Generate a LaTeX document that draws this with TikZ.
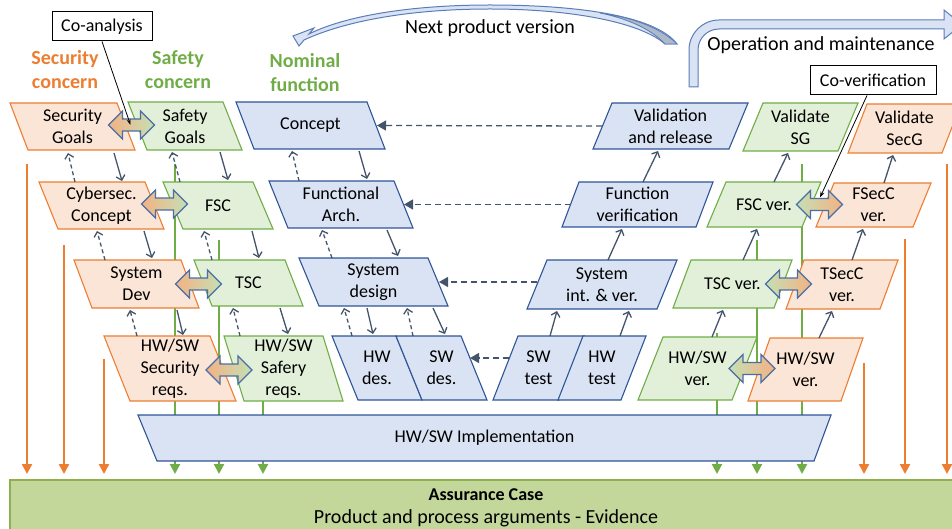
\documentclass[tikz,border=0pt]{standalone}
\usepackage{fontspec}
\setmainfont{Carlito}
\usetikzlibrary{arrows.meta,calc}
\definecolor{orF}{HTML}{FBE5D6}
\definecolor{orD}{HTML}{ED7D31}
\definecolor{grF}{HTML}{E2F0D9}
\definecolor{grD}{HTML}{70AD47}
\definecolor{blF}{HTML}{DAE3F3}
\definecolor{blD}{HTML}{2F5597}
\definecolor{blE}{HTML}{5A7DB8}
\definecolor{arc}{HTML}{44546A}
\definecolor{asF}{HTML}{C4D79B}
\definecolor{asD}{HTML}{8EB050}
\definecolor{daO}{HTML}{F4B183}
\definecolor{daG}{HTML}{C5E0B4}
\definecolor{daD}{HTML}{4A6FA5}
\definecolor{cgray}{HTML}{ADB9CA}
\pgfdeclarelayer{lines}
\pgfdeclarelayer{shapes}
\pgfsetlayers{lines,shapes,main}
% left-leaning parallelogram: style, name, x0, x1, ytop, ybot, slant, text
\newcommand\BoxL[8]{%
  \node[txt,minimum width={#4-#3},minimum height={#6-#5}] (#2) at ({(#3+#4)/2},{(#5+#6)/2}) {#8};
  \begin{pgfonlayer}{shapes}
    \filldraw[#1] (#2.north west) -- ([xshift=-#7pt]#2.north east) -- (#2.south east) -- ([xshift=#7pt]#2.south west) -- cycle;
  \end{pgfonlayer}}
% right-leaning parallelogram
\newcommand\BoxR[8]{%
  \node[txt,minimum width={#4-#3},minimum height={#6-#5}] (#2) at ({(#3+#4)/2},{(#5+#6)/2}) {#8};
  \begin{pgfonlayer}{shapes}
    \filldraw[#1] (#2.south west) -- ([xshift=#7pt]#2.north west) -- (#2.north east) -- ([xshift=-#7pt]#2.south east) -- cycle;
  \end{pgfonlayer}}
% double block arrow: name, cx, cy, left colour, right colour
\newcommand\DArr[5]{%
  \coordinate (#1) at (#2,#3);
  \path[draw=daD,line width=1.2pt,left color=#4,right color=#5]
    ($(#1)+(-23,0)$) -- ++(14,-14) -- ++(0,8) -- ++(18,0) -- ++(0,-8) -- ++(14,14)
    -- ++(-14,14) -- ++(0,-8) -- ++(-18,0) -- ++(0,8) -- cycle;}
\begin{document}
\begin{tikzpicture}[x=1pt,y=-1pt,
  txt/.style={inner sep=0pt,outer sep=0pt,align=center,font=\fontsize{18}{22}\selectfont},
  ob/.style={fill=orF,draw=orD,line width=1.1pt},
  gb/.style={fill=grF,draw=grD,line width=1.1pt},
  bb/.style={fill=blF,draw=blD,line width=1.1pt},
  con/.style={draw=arc,line width=1.3pt,-{Straight Barb[length=4.5pt,width=9pt]}},
  dcon/.style={con,dash pattern=on 4pt off 3pt},
  hcon/.style={draw=arc,line width=1.3pt,dash pattern=on 6pt off 4pt,-{Triangle[length=9pt,width=10pt]}},
  oline/.style={draw=orD,line width=2.2pt,-{Triangle[length=10pt,width=10pt]}},
  gline/.style={draw=grD,line width=2.2pt,-{Triangle[length=10pt,width=10pt]}},
  hdr/.style={inner sep=0pt,align=center,font=\fontsize{20}{24}\selectfont\bfseries},
  callout/.style={draw=black,fill=white,line width=1pt,minimum height=29pt,inner sep=0pt,font=\fontsize{18}{22}\selectfont},
  cline/.style={draw=black,line width=0.8pt,-{Stealth[length=6pt,width=4pt]}},
  bigarrow/.style={fill=blF,draw=blE,line width=1pt}]
\path[use as bounding box] (0,0) rectangle (952,529);
\clip (0,0) rectangle (952,529);

% ---------- headers ----------
\node[hdr,text=orD] (hsec) at (65,70) {Security\\concern};
\node[hdr,text=grD] (hsaf) at (178,70) {Safety\\concern};
\node[hdr,text=grD] (hnom) at (305,73) {Nominal\\function};

% ---------- boxes ----------
\BoxL{ob}{secg}{10}{135}{103}{150}{18}{Security\\Goals}
\BoxL{ob}{cyb}{39}{164}{182}{229}{19}{Cybersec.\\Concept}
\BoxL{ob}{sdev}{74}{199}{260}{308}{18}{System\\Dev}
\BoxL{ob}{secreq}{104}{236}{336}{401}{26}{HW/SW\\Security\\reqs.}
\BoxL{gb}{sg}{128}{242}{102}{150}{19}{Safety\\Goals}
\BoxL{gb}{fsc}{163}{273}{182}{229}{20}{FSC}
\BoxL{gb}{tsc}{194}{303}{260}{306}{18}{TSC}
\BoxL{gb}{safreq}{224}{343}{336}{401}{20}{HW/SW\\Safery\\reqs.}
\BoxL{bb}{concept}{236}{385}{102}{149}{18}{Concept}
\BoxL{bb}{farch}{269}{413}{181}{228}{19}{Functional\\Arch.}
\BoxL{bb}{sdes}{299}{448}{258}{306}{20}{System\\design}
\BoxL{bb}{hwdes}{332}{422}{336}{400}{26}{HW\\des.}
\BoxL{bb}{swdes}{396}{487}{336}{400}{26}{SW\\des.}
\BoxR{bb}{swtest}{493}{584}{336}{400}{25}{SW\\test}
\BoxR{bb}{hwtest}{558}{646}{336}{400}{25}{HW\\test}
\BoxR{bb}{sint}{527}{677}{260}{309}{20}{System\\int. \& ver.}
\BoxR{bb}{fver}{562}{713}{182}{227}{17}{Function\\verification}
\BoxR{bb}{valrel}{593}{748}{103}{149}{19}{Validation\\and release}
\BoxR{gb}{valsg}{743}{858}{103}{151}{20}{Validate\\SG}
\BoxR{gb}{fscver}{707}{821}{182}{227}{19}{FSC ver.}
\BoxR{gb}{tscver}{673}{792}{260}{308}{18}{TSC ver.}
\BoxR{gb}{hwverg}{638}{757}{337}{400}{25}{HW/SW\\ver.}
\BoxR{ob}{valsecg}{848}{961}{104}{153}{19}{Validate\\SecG}
\BoxR{ob}{fsecc}{816}{931}{183}{227}{18}{FSecC\\ver.}
\BoxR{ob}{tsecc}{786}{898}{260}{309}{18}{TSecC\\ver.}
\BoxR{ob}{hwvero}{748}{863}{338}{401}{22}{HW/SW\\ver.}

% implementation
\node[txt] (impl) at (484.5,438) {HW/SW Implementation};
\begin{pgfonlayer}{shapes}
  \filldraw[bb] (138,415) -- (831,415) -- (814,461) -- (157,461) -- cycle;
  \filldraw[fill=asF,draw=asD,line width=1.2pt] (10,480) rectangle (962,540);
\end{pgfonlayer}
\node[inner sep=0pt,font=\fontsize{18}{22}\selectfont\bfseries] (ac) at (486,495) {Assurance Case};
\node[inner sep=0pt,font=\fontsize{20}{24}\selectfont] (ac2) at (486,518) {Product and process arguments - Evidence};
\coordinate (acTop) at (486,474);

% ---------- vertical traceability lines ----------
\begin{pgfonlayer}{lines}
  \foreach \x/\y in {27/164,64/245,104/359,864/363,905/239,947/164}
    \draw[oline] (\x,\y) -- (\x,474);
  \foreach \x/\y in {175/164,219/240,263/380,717/333,757/240,802/164}
    \draw[gline] (\x,\y) -- (\x,474);
\end{pgfonlayer}

% ---------- left column connectors ----------
\draw[dcon] ($(cyb.north)+(-26.5,0)$) -- ($(secg.south)+(-4.5,3)$);
\draw[con] ($(secg.south)+(41.5,3)$) -- ($(cyb.north)+(20.5,-1)$);
\draw[dcon] ($(sdev.north)+(-31.5,0)$) -- ($(cyb.south)+(-4.5,2)$);
\draw[con] ($(cyb.south)+(42.5,2)$) -- ($(sdev.north)+(15.5,-2)$);
\draw[dcon] ($(secreq.north)+(-33,0)$) -- ($(sdev.south)+(-6.5,2)$);
\draw[con] ($(sdev.south)+(40.5,2)$) -- ($(secreq.north)+(13,-1)$);

\draw[dcon] ($(fsc.north)+(-38,0)$) -- ($(sg.south)+(-13,2)$);
\draw[con] ($(sg.south)+(35,2)$) -- ($(fsc.north)+(10,-2)$);
\draw[dcon] ($(tsc.north)+(-36.5,0)$) -- ($(fsc.south)+(-14,2)$);
\draw[con] ($(fsc.south)+(34,2)$) -- ($(tsc.north)+(10.5,-2)$);
\draw[dcon] ($(safreq.north)+(-43.5,0)$) -- ($(tsc.south)+(-15.5,2)$);
\draw[con] ($(tsc.south)+(31.5,2)$) -- ($(safreq.north)+(4.5,-2)$);

\draw[dcon] ($(farch.north)+(-42,0)$) -- ($(concept.south)+(-18.5,2)$);
\draw[con] ($(concept.south)+(48.5,2)$) -- ($(farch.north)+(26,-2)$);
\draw[dcon] ($(sdes.north)+(-41.5,0)$) -- ($(farch.south)+(-19,2)$);
\draw[con] ($(farch.south)+(46,2)$) -- ($(sdes.north)+(24.5,-2)$);
\draw[dcon] ($(hwdes.north)+(-25,0)$) -- ($(sdes.south)+(-29.5,2)$);
\draw[con] ($(sdes.south)+(-6.5,2)$) -- ($(hwdes.north)+(-4,-2)$);
\draw[dcon] ($(swdes.north)+(-28.5,0)$) -- ($(sdes.south)+(33.5,2)$);
\draw[con] ($(sdes.south)+(59.5,2)$) -- ($(swdes.north)+(3.5,-2)$);

% ---------- horizontal feedback ----------
\draw[hcon] ($(valrel.west)+(9,0)$) -- ($(concept.east)+(-8,0)$);
\draw[hcon] ($(fver.west)+(9,0)$) -- ($(farch.east)+(-9,0)$);
\draw[hcon] ($(sint.west)+(10,-2.5)$) -- ($(sdes.east)+(-9,0)$);
\draw[hcon] ($(swtest.west)+(16,-10)$) -- ($(swdes.east)+(-17,-10)$);

% ---------- right side connectors ----------
\draw[con] ($(swtest.north)+(11.5,0)$) -- ($(sint.south)+(-45,2)$);
\draw[con] ($(hwtest.north)+(18,0)$) -- ($(sint.south)+(27,2)$);
\draw[con] ($(sint.north)+(6,0)$) -- ($(fver.south)+(-15.5,2)$);
\draw[con] ($(fver.north)+(5.5,0)$) -- ($(valrel.south)+(-12.5,2)$);

\draw[con] ($(fscver.north)+(10,0)$) -- ($(valsg.south)+(-12.5,2)$);
\draw[con] ($(tscver.north)+(10.5,0)$) -- ($(fscver.south)+(-7,2)$);
\draw[con] ($(hwverg.north)+(14.5,0)$) -- ($(tscver.south)+(-9.5,2)$);

\draw[con] ($(fsecc.north)+(10.5,0)$) -- ($(valsecg.south)+(-11.5,2)$);
\draw[con] ($(tsecc.north)+(10,0)$) -- ($(fsecc.south)+(-10.5,2)$);
\draw[con] ($(hwvero.north)+(13.5,0)$) -- ($(tsecc.south)+(-10,2)$);

% ---------- double block arrows ----------
\DArr{d1}{131.5}{125}{daO}{daG}
\DArr{d2}{164.5}{204}{daO}{daG}
\DArr{d3}{198.5}{284}{daO}{daG}
\DArr{d4}{229}{370}{daO}{daG}
\DArr{d5}{819.5}{204.5}{daG}{daO}
\DArr{d6}{788.5}{284}{daG}{daO}
\DArr{d7}{752}{368.5}{daG}{daO}

% ---------- callouts ----------
\node[callout,minimum width=100pt] (coan) at (102,26.5) {Co-analysis};
\node[callout,minimum width=126pt] (cover) at (873,80.5) {Co-verification};
\draw[cline] (coan.south) -- ($(d1)+(-1,0)$);
\draw[cline] ($(cover.south)+(-6,0)$) -- ($(d5)+(0.5,-7)$);

% ---------- next product version (curved arrow) ----------
\filldraw[bigarrow] (677,44) .. controls (655,15) and (575,5) .. (490,5)
  .. controls (410,5) and (345,16) .. (309,34) -- (314,28) -- (293,36) -- (299,46) -- (304,40)
  .. controls (345,21) and (410,9) .. (490,9) .. controls (570,9) and (640,22) .. (665,44) -- cycle;
\filldraw[fill=cgray,draw=blE,line width=0.8pt] (665,44) .. controls (650,28) and (625,18) .. (600,13)
  .. controls (630,17) and (660,27) .. (677,44) -- cycle;
\node[inner sep=0pt,font=\fontsize{20}{24}\selectfont] (npv) at (490,28) {Next product version};

% ---------- operation and maintenance (bent arrow) ----------
\filldraw[bigarrow] (689,87) -- (689,50) arc[start angle=180,end angle=270,radius=30] -- (944,20) -- (944,10)
  -- (962,24.5) -- (944,39) -- (944,29) -- (719,29) arc[start angle=270,end angle=180,radius=21] -- (698,87) -- cycle;
\node[inner sep=0pt,font=\fontsize{20}{24}\selectfont] (opm) at (821,45) {Operation and maintenance};
\end{tikzpicture}
\end{document}
